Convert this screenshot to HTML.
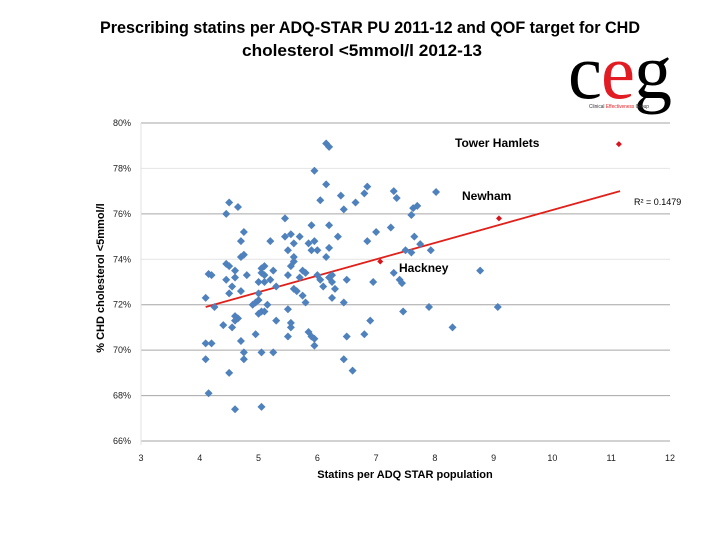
<!DOCTYPE html>
<html><head><meta charset="utf-8"><style>
html,body{margin:0;padding:0;background:#fff;}
svg{display:block;font-family:"Liberation Sans",sans-serif;}
</style></head><body>
<svg id="chart" width="720" height="540" viewBox="0 0 720 540" xmlns="http://www.w3.org/2000/svg">
<text x="370" y="33" text-anchor="middle" font-size="17" font-weight="bold" textLength="540" lengthAdjust="spacingAndGlyphs">Prescribing statins per ADQ-STAR  PU 2011-12 and QOF target for CHD</text>
<text x="362" y="56" text-anchor="middle" font-size="17" font-weight="bold" textLength="240" lengthAdjust="spacingAndGlyphs">cholesterol &lt;5mmol/l    2012-13</text>
<g>
<text x="568" y="98" font-family="Liberation Serif,serif" font-size="78" fill="#000" textLength="34" lengthAdjust="spacingAndGlyphs">c</text>
<text x="601" y="98" font-family="Liberation Serif,serif" font-size="78" fill="#e21c23" textLength="34" lengthAdjust="spacingAndGlyphs">e</text>
<text x="634" y="98" font-family="Liberation Serif,serif" font-size="78" fill="#000" textLength="38" lengthAdjust="spacingAndGlyphs">g</text>
<text x="589" y="108" font-size="5" fill="#333" textLength="60" lengthAdjust="spacingAndGlyphs">Clinical <tspan fill="#e21c23">Effectiveness</tspan> Group</text>
</g>
<g id="grid"></g>
<g id="axes"></g>
<g id="trend"></g>
<g id="points"></g>
<text x="455" y="147" font-size="12" font-weight="bold">Tower Hamlets</text>
<text x="462" y="200" font-size="12" font-weight="bold">Newham</text>
<text x="399" y="272" font-size="12" font-weight="bold">Hackney</text>
<text x="634" y="205" font-size="9">R² = 0.1479</text>
<text x="405" y="478" text-anchor="middle" font-size="11" font-weight="bold">Statins per ADQ STAR population</text>
<text transform="translate(104,278) rotate(-90)" text-anchor="middle" font-size="11" font-weight="bold">% CHD  cholesterol &lt;5mmol/l</text>
</svg>
<script>
const xTicks=[3,4,5,6,7,8,9,10,11,12];
const yTicks=[66,68,70,72,74,76,78,80];
const statins=[4.1,4.2,4.1,4.15,4.1,4.15,4.2,4.25,4.4,4.45,4.5,4.45,4.55,4.5,4.5,4.45,4.65,4.6,4.6,4.55,4.6,4.65,4.6,4.7,4.75,4.75,4.5,4.7,4.75,4.7,4.75,4.7,4.8,4.6,4.9,4.95,5.0,5.0,5.05,5.1,5.0,5.05,5.1,5.1,5.15,5.05,5.0,5.1,4.95,5.05,5.25,5.05,5.2,5.25,5.2,5.3,5.3,5.45,5.55,5.45,5.5,5.5,5.55,5.5,5.55,5.55,5.5,5.6,5.6,5.6,5.7,5.6,5.65,5.7,5.75,5.8,5.75,5.8,5.85,5.9,5.95,5.95,5.9,5.85,5.95,5.9,6.0,6.0,6.05,6.1,5.95,6.05,6.15,6.15,6.2,6.2,6.2,6.15,6.25,6.2,6.25,6.3,6.25,6.35,6.4,6.45,6.5,6.45,6.5,6.45,6.6,6.65,6.8,6.85,6.8,6.9,6.95,6.85,7.0,7.25,7.3,7.35,7.4,7.3,7.44,7.46,7.5,7.6,7.63,7.7,7.65,7.6,7.75,7.93,8.02,7.9,8.3,8.77,9.07];
const cholPct=[70.3,70.3,69.6,68.1,72.3,73.35,73.3,71.9,71.1,73.8,73.7,73.1,72.8,72.5,76.5,76.0,76.3,73.2,73.5,71.0,71.5,71.4,71.3,70.4,69.9,69.6,69.0,74.1,74.2,74.8,75.2,72.6,73.3,67.4,72.0,72.1,72.2,72.5,73.4,73.3,73.0,73.6,73.7,73.0,72.0,71.7,71.6,71.7,70.7,69.9,69.9,67.5,74.8,73.5,73.1,72.8,71.3,75.0,75.1,75.8,74.4,73.3,73.7,71.8,71.0,71.2,70.6,73.9,74.1,74.7,75.0,72.7,72.6,73.2,73.5,73.4,72.4,72.1,70.8,70.6,70.5,70.2,74.4,74.7,74.8,75.5,74.4,73.3,73.1,72.8,77.9,76.6,77.3,79.1,78.95,75.5,74.5,74.1,73.3,73.2,73.0,72.7,72.3,75.0,76.8,76.2,73.1,72.1,70.6,69.6,69.1,76.5,76.9,77.2,70.7,71.3,73.0,74.8,75.2,75.4,77.0,76.7,73.1,73.4,72.95,71.7,74.4,75.95,76.25,76.35,75.0,74.3,74.67,74.4,76.96,71.9,71.0,73.5,71.9];
const highlightNames=["Tower Hamlets","Newham","Hackney"];
const highlightX=[11.13,9.09,7.07];
const highlightY=[79.07,75.8,73.9];
const trendX=[4.1,11.15];
const trendY=[71.9,77.0];

const NS="http://www.w3.org/2000/svg";
const X0=141,X1=670,Y0=441,Y1=123;
const sx=v=>X0+(v-3)/(12-3)*(X1-X0);
const sy=v=>Y0-(v-66)/(80-66)*(Y0-Y1);
function mk(tag,attrs,parent){const e=document.createElementNS(NS,tag);for(const k in attrs)e.setAttribute(k,attrs[k]);parent.appendChild(e);return e;}
const grid=document.getElementById('grid'),axes=document.getElementById('axes');
yTicks.forEach(t=>{
  const l=mk('line',{x1:X0,x2:X1,y1:sy(t),y2:sy(t),stroke:(t==74||t==78)?'#e4e4e4':'#a6a6a6','stroke-width':1},grid);
  
  
  const tx=mk('text',{x:X0-10,y:sy(t)+3,'text-anchor':'end','font-size':9,fill:'#222'},axes);
  tx.textContent=t+'%';
  
  
});
const ya=mk('line',{x1:X0,x2:X0,y1:Y1,y2:Y0+4,stroke:'#e0e0e0'},axes);


xTicks.forEach(t=>{
  const tx=mk('text',{x:sx(t),y:Y0+20,'text-anchor':'middle','font-size':9,fill:'#222'},axes);
  tx.textContent=t;
  
  
});
const tl=mk('line',{x1:sx(trendX[0]),y1:sy(trendY[0]),x2:sx(trendX[1]),y2:sy(trendY[1]),stroke:'#e0201a','stroke-width':1.8},document.getElementById('trend'));


const pts=document.getElementById('points');
statins.forEach((v,i)=>{
  const cx=sx(v),cy=sy(cholPct[i]),r=4;
  const p=mk('polygon',{points:`${cx},${cy-r} ${cx+r},${cy} ${cx},${cy+r} ${cx-r},${cy}`,fill:'#4f81bd'},pts);
  
  
});
highlightX.forEach((v,i)=>{
  const cx=sx(v),cy=sy(highlightY[i]),r=3;
  const p=mk('polygon',{points:`${cx},${cy-r} ${cx+r},${cy} ${cx},${cy+r} ${cx-r},${cy}`,fill:'#d9141c'},pts);
  
  
});
</script>
</body></html>
